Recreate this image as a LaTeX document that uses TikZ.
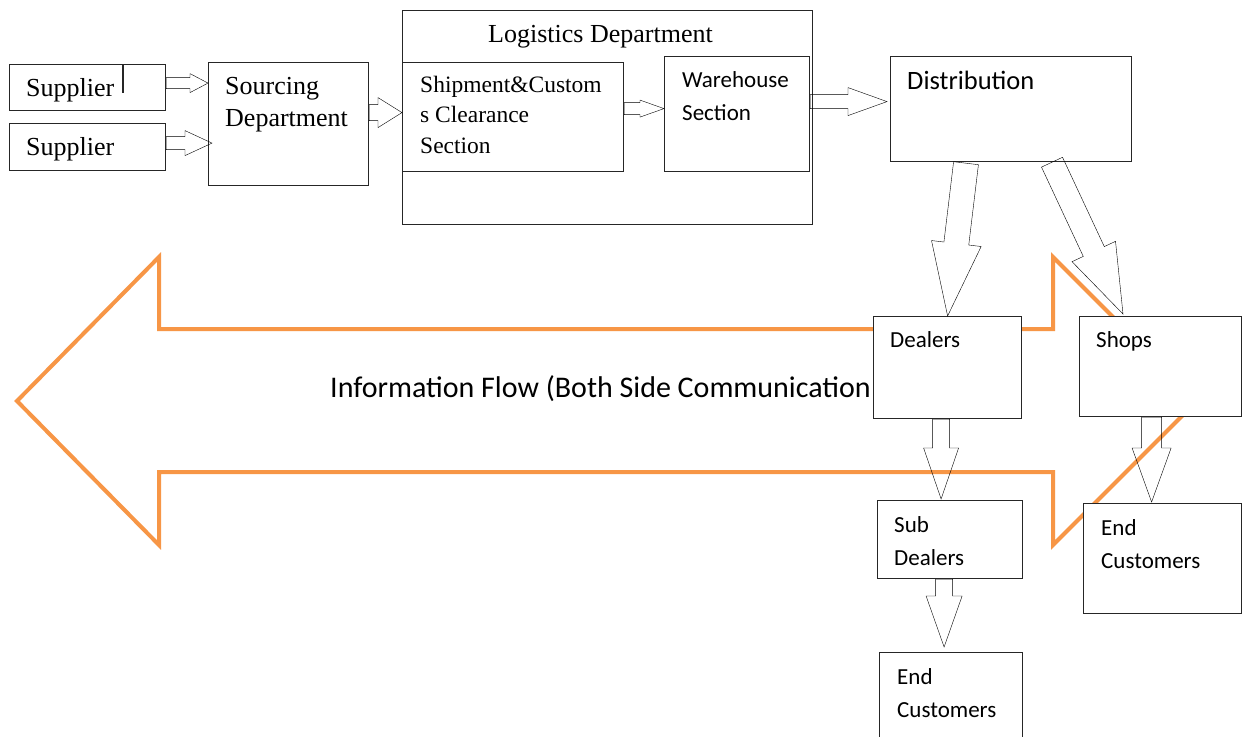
\documentclass[tikz,border=0pt]{standalone}
\usepackage{fontspec}
\setmainfont{Liberation Serif}
\newfontfamily\calfont{Carlito}
\usetikzlibrary{calc}
\definecolor{flow}{HTML}{F79646}
\definecolor{edge}{HTML}{262626}
\tikzset{
  box/.style={draw=edge, line width=1.2pt, fill=white, inner sep=0pt, anchor=north west},
  % multi-line labels are placed by the baseline of their last line
  lbl/.style={inner sep=0pt, anchor=base west, align=left},
  serif/.style={font=\fontsize{26}{32}\selectfont},
  ship/.style={font=\fontsize{23.5}{30.5}\selectfont},
  cal/.style={font=\calfont\fontsize{23}{33}\selectfont},
  % hollow block arrow: #1 half shaft width, #2 half head width, #3 head length
  blk/.style n args={3}{draw=edge, line width=1.2pt, fill=white, line join=miter,
    to path={
      ($(\tikztotarget)!#3!(\tikztostart)$) coordinate (blkH)
      ($(\tikztostart)!#1!90:(\tikztotarget)$)
      -- ($(blkH)!#1!-90:(\tikztostart)$)
      -- ($(blkH)!#2!-90:(\tikztostart)$)
      -- (\tikztotarget)
      -- ($(blkH)!#2!90:(\tikztostart)$)
      -- ($(blkH)!#1!90:(\tikztostart)$)
      -- ($(\tikztostart)!#1!-90:(\tikztotarget)$)
      -- cycle}},
}
\begin{document}
\begin{tikzpicture}[x=1pt, y=-1pt]
\useasboundingbox (0,0) rectangle (1244,736);
\clip (0,0) rectangle (1244,736);

% two-way information flow
\draw[flow, line width=4pt, line join=miter, fill=white]
  (17,401) -- (159,257) -- (159,329) -- (1053,329) -- (1053,257)
  -- (1197,401) -- (1053,545) -- (1053,472) -- (159,472) -- (159,545) -- cycle;
\node[lbl, font=\calfont\fontsize{30}{36}\selectfont] (info) at (330,397)
  {Information Flow (Both Side Communication};

% boxes
\node[box, minimum width=156pt, minimum height=46pt] (sup1) at (9,64) {};
\node[box, minimum width=156pt, minimum height=47pt] (sup2) at (9,123) {};
\node[box, minimum width=160pt, minimum height=123pt] (src) at (208,62) {};
\node[box, minimum width=410pt, minimum height=214pt] (log) at (402,10) {};
\node[box, minimum width=221pt, minimum height=109pt] (ship) at (402,62) {};
\node[box, minimum width=145pt, minimum height=115pt] (ware) at (664,56) {};
\node[box, minimum width=241pt, minimum height=105pt] (dist) at (890,56) {};
\node[box, minimum width=148pt, minimum height=102pt] (deal) at (873,316) {};
\node[box, minimum width=162pt, minimum height=100pt] (shop) at (1079,316) {};
\node[box, minimum width=145pt, minimum height=78pt] (sub) at (877,500) {};
\node[box, minimum width=158pt, minimum height=110pt] (endR) at (1083,503) {};
\node[box, minimum width=143pt, minimum height=100pt] (endB) at (879,652) {};

% labels
\node[lbl, serif] (tsup1) at (26,96) {Supplier};
\draw[edge, line width=2.2pt] ($(sup1.north west)+(114,0)$) -- ++(0,29);
\node[lbl, serif] (tsup2) at (26,155) {Supplier};
\node[lbl, serif] (tsrc) at (225,126) {Sourcing\\Department};
\node[lbl, serif] (tlog) at (488,42) {Logistics Department};
\node[lbl, ship] (tship) at (420,153) {Shipment\&Custom\\s Clearance\\Section};
\node[lbl, cal] (tware) at (682,120) {Warehouse\\Section};
\node[lbl, font=\calfont\fontsize{26.5}{32}\selectfont] (tdist) at (907,89) {Distribution};
\node[lbl, cal] (tdeal) at (890,347) {Dealers};
\node[lbl, cal] (tshop) at (1096,347) {Shops};
\node[lbl, cal] (tsub) at (894,565) {Sub\\Dealers};
\node[lbl, cal] (tendR) at (1101,568) {End\\Customers};
\node[lbl, cal] (tendB) at (897,717) {End\\Customers};

% arrow end points
\coordinate (a1s) at ($(sup1.east)+(0,-4.5)$);
\coordinate (a1e) at (src.west |- a1s);
\coordinate (a2s) at ($(sup2.east)+(0,-4)$);
\coordinate (a2e) at ($(src.west |- a2s)+(4,0)$);
\coordinate (a3s) at ($(src.east)+(0,-11.5)$);
\coordinate (a3e) at (ship.west |- a3s);
\coordinate (a4s) at ($(ship.east)+(0,-8.5)$);
\coordinate (a4e) at (ware.west |- a4s);
\coordinate (a5s) at ($(ware.east)+(0,-12.5)$);
\coordinate (a5e) at ($(dist.west |- a5s)+(-3,0)$);
\coordinate (a6s) at ($(dist.south west)+(76,1)$);
\coordinate (a6e) at (deal.north);
\coordinate (a7s) at ($(dist.south west)+(162,0)$);
\coordinate (a7e) at ($(shop.north west)+(44,-2)$);
\coordinate (a8s) at ($(deal.south)+(-6.5,0)$);
\coordinate (a8e) at ($(a8s |- sub.north)+(0,-1)$);
\coordinate (a9s) at ($(shop.south)+(-9,0)$);
\coordinate (a9e) at ($(a9s |- endR.north)+(0,-1)$);
\coordinate (a10s) at ($(sub.south)+(-6,0)$);
\coordinate (a10e) at ($(a10s |- endB.north)+(0,-5)$);

% material flow
\draw (a1s) to[blk={5.5pt}{9.5pt}{18pt}] (a1e);
\draw (a2s) to[blk={6.5pt}{12.5pt}{27pt}] (a2e);
\draw (a3s) to[blk={8pt}{15pt}{24pt}] (a3e);
\draw (a4s) to[blk={6pt}{8.5pt}{24pt}] (a4e);
\draw (a5s) to[blk={7pt}{14pt}{39pt}] (a5e);
\draw (a6s) to[blk={12.5pt}{25pt}{73pt}] (a6e);
\draw (a7s) to[blk={11.6pt}{24pt}{69pt}] (a7e);
\draw (a8s) to[blk={8.5pt}{17.5pt}{51pt}] (a8e);
\draw (a9s) to[blk={10pt}{19.5pt}{54pt}] (a9e);
\draw (a10s) to[blk={8.5pt}{18pt}{51pt}] (a10e);
\end{tikzpicture}
\end{document}
